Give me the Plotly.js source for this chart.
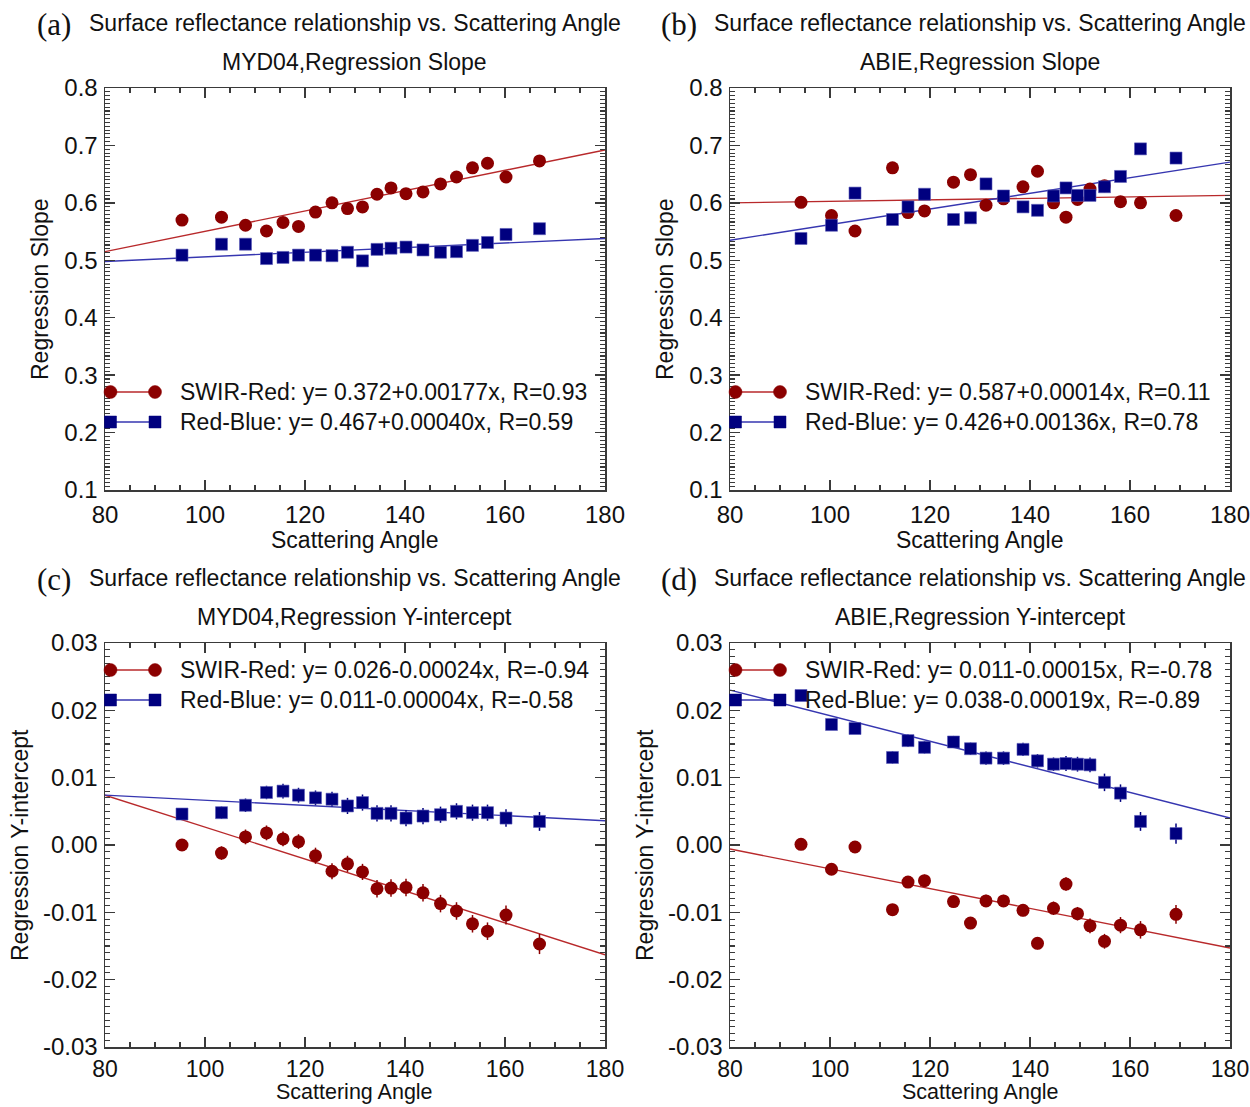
<!DOCTYPE html>
<html>
<head>
<meta charset="utf-8">
<script src="https://cdn.plot.ly/plotly-3.0.1.min.js"></script>
<style>html,body{margin:0;padding:0;background:#fff;}#chart{width:1250px;height:1107px;}</style>
</head>
<body>
<div id="chart"></div>
<script>
// ---------------- data ----------------
const angleMYD = [95.4,103.3,108.1,112.3,115.6,118.7,122.1,125.4,128.5,131.5,134.4,137.2,140.2,143.6,147.1,150.3,153.5,156.5,160.2,166.9];
const angleABIE = [94.2,100.3,105.0,112.5,115.6,118.9,124.7,128.1,131.2,134.7,138.6,141.5,144.7,147.2,149.5,152.0,154.9,158.1,162.1,169.2];

const slopeMYD_SwirRed = [0.570,0.575,0.561,0.551,0.566,0.559,0.584,0.600,0.590,0.593,0.615,0.626,0.616,0.619,0.633,0.645,0.661,0.669,0.645,0.673];
const slopeMYD_RedBlue = [0.509,0.528,0.528,0.503,0.505,0.509,0.509,0.508,0.514,0.499,0.519,0.521,0.523,0.518,0.514,0.515,0.526,0.531,0.545,0.555];
const slopeABIE_SwirRed = [0.601,0.578,0.551,0.661,0.583,0.586,0.636,0.649,0.596,0.607,0.628,0.655,0.600,0.575,0.606,0.624,0.630,0.602,0.600,0.578];
const slopeABIE_RedBlue = [0.538,0.561,0.617,0.571,0.593,0.615,0.571,0.574,0.633,0.612,0.593,0.587,0.612,0.626,0.613,0.613,0.628,0.646,0.694,0.678];

const interMYD_SwirRed = [0.0000,-0.0012,0.0012,0.0018,0.0009,0.0005,-0.0016,-0.0039,-0.0028,-0.0040,-0.0065,-0.0064,-0.0063,-0.0071,-0.0087,-0.0098,-0.0117,-0.0128,-0.0104,-0.0147];
const interMYD_RedBlue = [0.0046,0.0048,0.0059,0.0078,0.0080,0.0074,0.0070,0.0068,0.0058,0.0063,0.0047,0.0047,0.0040,0.0043,0.0045,0.0050,0.0048,0.0048,0.0040,0.0035];
const interABIE_SwirRed = [0.0001,-0.0036,-0.0003,-0.0096,-0.0055,-0.0053,-0.0084,-0.0116,-0.0083,-0.0083,-0.0097,-0.0146,-0.0094,-0.0058,-0.0102,-0.0120,-0.0143,-0.0119,-0.0126,-0.0103];
const interABIE_RedBlue = [0.0222,0.0179,0.0173,0.0130,0.0155,0.0145,0.0153,0.0143,0.0129,0.0129,0.0142,0.0125,0.0120,0.0121,0.0120,0.0119,0.0093,0.0077,0.0035,0.0017];

const errMYD_SwirRed = [0.0009,0.0010,0.0011,0.0011,0.0011,0.0011,0.0012,0.0012,0.0012,0.0012,0.0013,0.0013,0.0013,0.0013,0.0013,0.0013,0.0013,0.0013,0.0014,0.0015];
const errMYD_RedBlue = [0.0009,0.0009,0.0010,0.0010,0.0011,0.0011,0.0011,0.0011,0.0012,0.0012,0.0012,0.0012,0.0012,0.0012,0.0012,0.0012,0.0012,0.0012,0.0013,0.0014];
const errABIE_SwirRed = [0.0008,0.0008,0.0008,0.0008,0.0008,0.0009,0.0009,0.0009,0.0009,0.0009,0.0009,0.0009,0.0010,0.0010,0.0010,0.0011,0.0011,0.0012,0.0013,0.0014];
const errABIE_RedBlue = [0.0008,0.0008,0.0008,0.0009,0.0009,0.0009,0.0009,0.0009,0.0010,0.0010,0.0010,0.0010,0.0010,0.0011,0.0011,0.0011,0.0013,0.0013,0.0014,0.0015];

// fitted regression lines, values at the axis ends
const fitX = [80,180];
const fitSlopeMYD_SwirRed = [0.515,0.692];
const fitSlopeMYD_RedBlue = [0.498,0.538];
const fitSlopeABIE_SwirRed = [0.600,0.613];
const fitSlopeABIE_RedBlue = [0.535,0.671];
const fitInterMYD_SwirRed = [0.0074,-0.0163];
const fitInterMYD_RedBlue = [0.0074,0.0036];
const fitInterABIE_SwirRed = [-0.0006,-0.0153];
const fitInterABIE_RedBlue = [0.0230,0.0040];

const xTickVals = [80,100,120,140,160,180];
const xTickText = ["80","100","120","140","160","180"];
const ySlopeTickVals = [0.1,0.2,0.3,0.4,0.5,0.6,0.7,0.8];
const ySlopeTickText = ["0.1","0.2","0.3","0.4","0.5","0.6","0.7","0.8"];
const yInterTickVals = [-0.03,-0.02,-0.01,0,0.01,0.02,0.03];
const yInterTickText = ["-0.03","-0.02","-0.01","0.00","0.01","0.02","0.03"];

const panelLetters = ["(a)","(b)","(c)","(d)"];
const titleLine1 = "Surface reflectance relationship vs. Scattering Angle";
const titleLine2 = ["MYD04,Regression Slope","ABIE,Regression Slope","MYD04,Regression Y-intercept","ABIE,Regression Y-intercept"];
const yTitles = ["Regression Slope","Regression Slope","Regression Y-intercept","Regression Y-intercept"];
const xTitle = "Scattering Angle";
const legendSwirRed = ["SWIR-Red: y= 0.372+0.00177x, R=0.93","SWIR-Red: y= 0.587+0.00014x, R=0.11","SWIR-Red: y= 0.026-0.00024x, R=-0.94","SWIR-Red: y= 0.011-0.00015x, R=-0.78"];
const legendRedBlue = ["Red-Blue: y= 0.467+0.00040x, R=0.59","Red-Blue: y= 0.426+0.00136x, R=0.78","Red-Blue: y= 0.011-0.00004x, R=-0.58","Red-Blue: y= 0.038-0.00019x, R=-0.89"];

// ---------------- styling ----------------
const W = 1250, H = 1107;
const px = x => x / W;
const py = y => 1 - y / H;
const RED = '#8b0000', BLUE = '#00007f';
const RED_LINE = '#b8292b', BLUE_LINE = '#3636b0';
const AX = '#3a3a3a';
const SANS = 'Liberation Sans, Arial, sans-serif';
const SERIF = 'Liberation Serif, Times New Roman, serif';
const FS = 23, TFS = 24;
const MS = 13;

const panels = [
  {x0:105, x1:605, y0:88,  y1:490,  ang:angleMYD,  r:slopeMYD_SwirRed,  b:slopeMYD_RedBlue,  fr:fitSlopeMYD_SwirRed,  fb:fitSlopeMYD_RedBlue,  er:null, eb:null, top:true},
  {x0:730, x1:1230,y0:88,  y1:490,  ang:angleABIE, r:slopeABIE_SwirRed, b:slopeABIE_RedBlue, fr:fitSlopeABIE_SwirRed, fb:fitSlopeABIE_RedBlue, er:null, eb:null, top:true},
  {x0:105, x1:605, y0:643, y1:1047, ang:angleMYD,  r:interMYD_SwirRed,  b:interMYD_RedBlue,  fr:fitInterMYD_SwirRed,  fb:fitInterMYD_RedBlue,  er:errMYD_SwirRed, eb:errMYD_RedBlue, top:false},
  {x0:730, x1:1230,y0:643, y1:1047, ang:angleABIE, r:interABIE_SwirRed, b:interABIE_RedBlue, fr:fitInterABIE_SwirRed, fb:fitInterABIE_RedBlue, er:errABIE_SwirRed, eb:errABIE_RedBlue, top:false}
];

const traces = [];
const layout = {
  width: W, height: H,
  margin: {l:0, r:0, t:0, b:0},
  paper_bgcolor: '#fff', plot_bgcolor: '#fff',
  showlegend: false,
  font: {family: SANS, size: FS, color: '#111'},
  annotations: [], shapes: []
};

panels.forEach((p, i) => {
  const n = i + 1;
  const xa = n === 1 ? 'x' : 'x' + n;
  const ya = n === 1 ? 'y' : 'y' + n;
  const xk = n === 1 ? 'xaxis' : 'xaxis' + n;
  const yk = n === 1 ? 'yaxis' : 'yaxis' + n;

  layout[xk] = {
    domain: [px(p.x0), px(p.x1)], anchor: ya,
    range: [80,180], tickmode: 'array', tickvals: xTickVals, ticktext: xTickText,
    ticks: 'inside', ticklen: 10, tickwidth: 1.3, tickcolor: AX,
    showline: true, linecolor: AX, linewidth: 1.5, mirror: 'allticks',
    showgrid: false, zeroline: false,
    minor: {dtick: 5, tick0: 80, ticks: 'inside', ticklen: 5, tickwidth: 1.1, tickcolor: AX, showgrid: false},
    tickfont: {family: SANS, size: p.top ? TFS : 23, color: '#111'},
    ticklabelstandoff: p.top ? 3 : 1, ticklabeloverflow: 'allow'
  };
  layout[yk] = {
    domain: [py(p.y1), py(p.y0)], anchor: xa,
    range: p.top ? [0.1,0.8] : [-0.03,0.03],
    tickmode: 'array',
    tickvals: p.top ? ySlopeTickVals : yInterTickVals,
    ticktext: p.top ? ySlopeTickText : yInterTickText,
    ticks: 'inside', ticklen: 10, tickwidth: 1.3, tickcolor: AX,
    showline: true, linecolor: AX, linewidth: 1.5, mirror: 'allticks',
    showgrid: false, zeroline: false,
    minor: {dtick: p.top ? 0.1/15 : 0.001, tick0: p.top ? 0.1 : -0.03, ticks: 'inside', ticklen: 5, tickwidth: 1.1, tickcolor: AX, showgrid: false},
    tickfont: {family: SANS, size: TFS, color: '#111'},
    ticklabelstandoff: 1, ticklabeloverflow: 'allow'
  };

  // fit lines
  traces.push({x: fitX, y: p.fr, xaxis: xa, yaxis: ya, mode: 'lines', line: {color: RED_LINE, width: 1.4}, hoverinfo: 'skip'});
  traces.push({x: fitX, y: p.fb, xaxis: xa, yaxis: ya, mode: 'lines', line: {color: BLUE_LINE, width: 1.4}, hoverinfo: 'skip'});
  // points
  const tr = {x: p.ang, y: p.r, xaxis: xa, yaxis: ya, mode: 'markers', marker: {symbol: 'circle', size: MS, color: RED, line: {width: 0}}};
  if (p.er) tr.error_y = {type: 'data', array: p.er, visible: true, color: RED, thickness: 1.5, width: 0};
  traces.push(tr);
  const tb = {x: p.ang, y: p.b, xaxis: xa, yaxis: ya, mode: 'markers', marker: {symbol: 'square', size: MS - 1, color: BLUE, line: {width: 0.6, color: '#5a5ab8'}}};
  if (p.eb) tb.error_y = {type: 'data', array: p.eb, visible: true, color: BLUE, thickness: 1.5, width: 0};
  traces.push(tb);

  const cx = (p.x0 + p.x1) / 2;
  const cy = (p.y0 + p.y1) / 2;
  const tTop = p.top ? 23 : 578;
  // panel letter
  layout.annotations.push({xref:'paper', yref:'paper', x: px(p.x0 - 51), y: py(tTop + 1), text: panelLetters[i], showarrow:false, xanchor:'center', yanchor:'middle', font:{family: SERIF, size: 31, color:'#111'}});
  // title lines
  layout.annotations.push({xref:'paper', yref:'paper', x: px(cx), y: py(tTop), text: titleLine1, showarrow:false, xanchor:'center', yanchor:'middle', font:{family: SANS, size: FS, color:'#111'}});
  layout.annotations.push({xref:'paper', yref:'paper', x: px(cx), y: py(tTop + 39), text: titleLine2[i], showarrow:false, xanchor:'center', yanchor:'middle', font:{family: SANS, size: FS, color:'#111'}});
  // axis titles
  layout.annotations.push({xref:'paper', yref:'paper', x: px(cx), y: py(p.top ? p.y1 + 50 : H - 1), text: xTitle, showarrow:false, xanchor:'center', yanchor: p.top ? 'middle' : 'bottom', font:{family: SANS, size: p.top ? FS : 21.5, color:'#111'}});
  layout.annotations.push({xref:'paper', yref:'paper', x: px(p.x0 - (p.top ? 65 : 85)), y: py(cy), text: yTitles[i], textangle: -90, showarrow:false, xanchor:'center', yanchor:'middle', font:{family: SANS, size: FS, color:'#111'}});

  // custom legend
  const l1 = p.top ? 392 : 670;
  const l2 = l1 + 30;
  const lx0 = p.x0 + 5.5, lx1 = p.x0 + 50;
  [[l1, RED_LINE, RED, 'circle', legendSwirRed[i]], [l2, BLUE_LINE, BLUE, 'rect', legendRedBlue[i]]].forEach(([ly, lc, mc, shp, txt]) => {
    layout.shapes.push({type:'line', xref:'paper', yref:'paper', x0: px(lx0), x1: px(lx1), y0: py(ly), y1: py(ly), line:{color: lc, width: 1.4}});
    const r = shp === 'circle' ? 6.5 : 6;
    [lx0, lx1].forEach(mx => {
      layout.shapes.push({type: shp, xref:'paper', yref:'paper', x0: px(mx - r), x1: px(mx + r), y0: py(ly + r), y1: py(ly - r), fillcolor: mc, line:{color: mc, width: 0.5}});
    });
    layout.annotations.push({xref:'paper', yref:'paper', x: px(p.x0 + 73), y: py(ly), text: txt, showarrow:false, xanchor:'left', yanchor:'middle', font:{family: SANS, size: FS, color:'#111'}});
  });
});

Plotly.newPlot('chart', traces, layout, {staticPlot: true, displayModeBar: false});
</script>
</body>
</html>
